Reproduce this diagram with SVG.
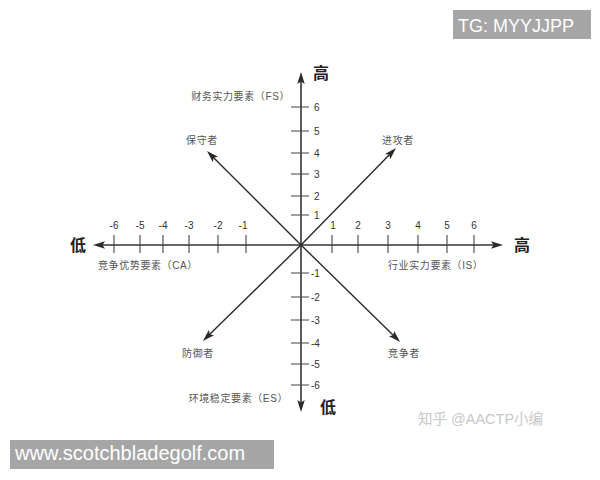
<svg xmlns="http://www.w3.org/2000/svg" width="600" height="480" viewBox="0 0 600 480">
<style>
.ax{stroke:#333;stroke-width:1.6;fill:none}
.dg{stroke:#2a2a2a;stroke-width:1.4;fill:none}
.tk{stroke:#444;stroke-width:1.1}
.num{font-family:"Liberation Sans",Arial,sans-serif;font-size:10px;fill:#333}
.lb{font-family:"Liberation Sans","Noto Sans CJK SC",sans-serif;font-size:10px;fill:#555;letter-spacing:0.6px}
.big{font-family:"Noto Sans CJK SC",sans-serif;font-size:16px;font-weight:bold;fill:#222}
</style>
<defs>
<marker id="ah" markerUnits="userSpaceOnUse" markerWidth="12" markerHeight="8" refX="6" refY="3.75" orient="auto-start-reverse">
<path d="M0,0 L12,3.75 L0,7.5 L2.5,3.75 z" fill="#2a2a2a"/>
</marker>
</defs>
<rect width="600" height="480" fill="#fff"/>
<g id="connectors">
<line class="ax" x1="99" y1="245" x2="497" y2="245" marker-start="url(#ah)" marker-end="url(#ah)"/>
<line class="ax" x1="301" y1="78" x2="301" y2="406" marker-start="url(#ah)" marker-end="url(#ah)"/>
<line class="dg" x1="301" y1="245" x2="211.2" y2="155.2" marker-end="url(#ah)"/>
<line class="dg" x1="301" y1="245" x2="391.8" y2="152.3" marker-end="url(#ah)"/>
<line class="dg" x1="301" y1="245" x2="207.2" y2="336.8" marker-end="url(#ah)"/>
<line class="dg" x1="301" y1="245" x2="395.8" y2="337.8" marker-end="url(#ah)"/>
</g>
<g id="x-ticks">
<path class="tk" d="M114,235V253M140,235V253M163,235V253M189,235V253M218,235V253M246,235V253M332,235V253M358,235V253M388,235V253M418,235V253M447,235V253M474,235V253"/>
<g class="num" text-anchor="middle">
<text x="114" y="229">-6</text><text x="140" y="229">-5</text><text x="163" y="229">-4</text><text x="189" y="229">-3</text><text x="218" y="229">-2</text><text x="243" y="229">-1</text>
<text x="333" y="229">1</text><text x="358" y="229">2</text><text x="388" y="229">3</text><text x="418" y="229">4</text><text x="447" y="229">5</text><text x="474" y="229">6</text>
</g>
</g>
<g id="y-ticks">
<path class="tk" d="M291,107H309M291,131H309M291,153H309M291,174H309M291,196H309M291,215H309M291,273H309M291,297H309M291,320H309M291,343H309M291,364H309M291,385H309"/>
<g class="num">
<text x="314" y="110.5">6</text><text x="314" y="134.5">5</text><text x="314" y="156.5">4</text><text x="314" y="177.5">3</text><text x="314" y="199.5">2</text><text x="314" y="218.5">1</text>
<text x="311" y="276.5">-1</text><text x="311" y="300.5">-2</text><text x="311" y="323.5">-3</text><text x="311" y="346.5">-4</text><text x="311" y="367.5">-5</text><text x="311" y="388.5">-6</text>
</g>
</g>
<g id="axis-ends">
<text class="big" x="321" y="79" text-anchor="middle">高</text>
<text class="big" x="328" y="413" text-anchor="middle">低</text>
<text class="big" x="78" y="251" text-anchor="middle">低</text>
<text class="big" x="522" y="251" text-anchor="middle">高</text>
</g>
<g id="axis-labels">
<text class="lb" x="290" y="100" text-anchor="end">财务实力要素（FS）</text>
<text class="lb" x="98" y="269">竞争优势要素（CA）</text>
<text class="lb" x="388" y="269">行业实力要素（IS）</text>
<text class="lb" x="288" y="402" text-anchor="end">环境稳定要素（ES）</text>
</g>
<g id="quadrants">
<text class="lb" x="202" y="144" text-anchor="middle">保守者</text>
<text class="lb" x="398" y="144" text-anchor="middle">进攻者</text>
<text class="lb" x="198" y="357" text-anchor="middle">防御者</text>
<text class="lb" x="404" y="357" text-anchor="middle">竞争者</text>
</g>
<g id="watermarks">
<rect x="453" y="10" width="138" height="29" fill="#a6a6a6"/>
<text x="458" y="32" font-family="Liberation Sans,Arial,sans-serif" font-size="18" fill="#fff">TG: MYYJJPP</text>
<rect x="10" y="440" width="264" height="29" fill="#a6a6a6"/>
<text x="15" y="460" font-family="Liberation Sans,Arial,sans-serif" font-size="20" fill="#fff">www.scotchbladegolf.com</text>
<text x="418" y="424" font-family="Liberation Sans,'Noto Sans CJK SC',sans-serif" font-size="14.5" fill="#c8c8c8">知乎 @AACTP小编</text>
</g>
</svg>
